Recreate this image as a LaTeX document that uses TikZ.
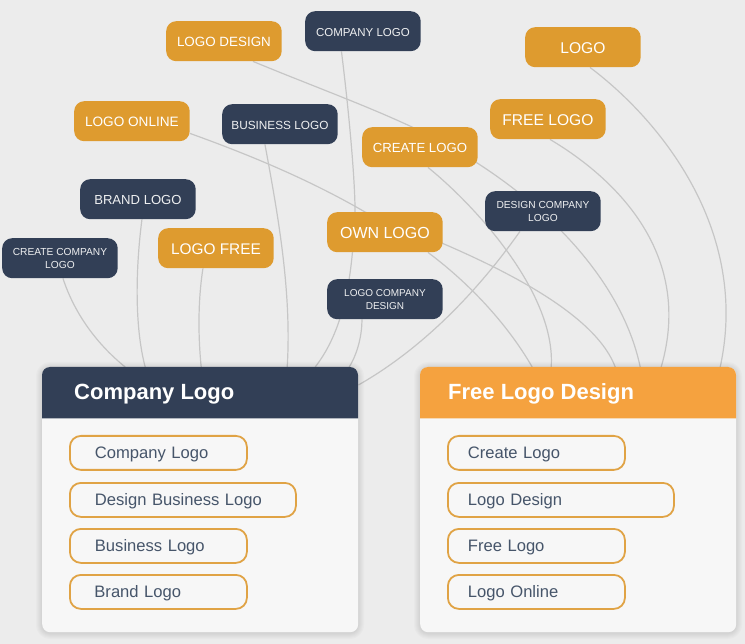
\documentclass[tikz,border=0pt]{standalone}
\usepackage{fontspec}
\setmainfont{Liberation Sans}
\definecolor{bgc}{HTML}{ECECEC}
\definecolor{navy}{HTML}{323F56}
\definecolor{gold}{HTML}{DE9B2F}
\definecolor{hdr}{HTML}{F5A23F}
\definecolor{body}{HTML}{F7F7F7}
\definecolor{pillc}{HTML}{E0A345}
\definecolor{ptext}{HTML}{46556A}
\definecolor{wire}{HTML}{C6C6C6}
\newcommand{\fsz}[2]{\fontsize{#1}{#2}\selectfont}
\newcommand{\dnstrut}{\rule{0pt}{.85em}}
\pgfdeclarelayer{backdrop}
\pgfdeclarelayer{wires}
\pgfsetlayers{backdrop,wires,main}
\tikzset{
  tag/.style={rounded corners=10pt,minimum width=115.5pt,minimum height=40pt,inner sep=0pt,text=white,align=center,anchor=north west},
  goldtag/.style={tag,fill=gold},
  navytag/.style={tag,fill=navy,text=white!92!navy},
  wireline/.style={draw=wire,line width=1.2pt},
  panelbody/.style={fill=body,rounded corners=8pt,minimum width=316pt,minimum height=265pt,inner sep=0pt,anchor=north west},
  headtext/.style={text=white,font=\bfseries\fsz{22}{26},inner sep=0pt,anchor=west},
  pill/.style={draw=pillc,line width=1.8pt,rounded corners=11pt,fill=body,minimum height=34pt,inner ysep=0pt,inner xsep=0pt,anchor=north west,text=ptext,font=\fsz{16.6}{20},align=left,text height=13.2pt,text depth=2.8pt},
  pillshort/.style={pill,text width=177pt,minimum width=177pt},
  pilllong/.style={pill,text width=226pt,minimum width=226pt}
}
\begin{document}
\begin{tikzpicture}[x=1pt,y=-1pt]
\useasboundingbox (0,0) rectangle (745,644);
\begin{pgfonlayer}{backdrop}
\fill[bgc] (0,0) rectangle (745,644);
\end{pgfonlayer}

% shadows and panels
\foreach \s in {1,...,6}{
  \fill[black,opacity=0.014,rounded corners=8+\s] (42-\s,367-\s+1) rectangle (358+\s,632+\s+1);
  \fill[black,opacity=0.014,rounded corners=8+\s] (420-\s,367-\s+1) rectangle (736+\s,632+\s+1);
}
\node[panelbody] (pl) at (42,367) {};
\node[panelbody] (pr) at (420,367) {};
\fill[navy] (42,418.5) [rounded corners=8pt] -- (42,367) -- (358,367) [sharp corners] -- (358,418.5) -- cycle;
\fill[hdr] (420,418.5) [rounded corners=8pt] -- (420,367) -- (736,367) [sharp corners] -- (736,418.5) -- cycle;
\node[headtext] (plh) at (74,394) {Company Logo};
\node[headtext] (prh) at (448,394) {Free Logo Design};

% pills
\node[pillshort] (l1) at (69,435) {\hspace*{25pt}Company Logo};
\node[pilllong] (l2) at (69,482) {\hspace*{25pt}Design Business Logo};
\node[pillshort] (l3) at (69,528) {\hspace*{25pt}Business Logo};
\node[pillshort] (l4) at (69,574) {\hspace*{24.5pt}Brand Logo};
\node[pillshort] (r1) at (447,435) {\hspace*{20pt}Create Logo};
\node[pilllong] (r2) at (447,482) {\hspace*{20pt}Logo Design};
\node[pillshort] (r3) at (447,528) {\hspace*{20pt}Free Logo};
\node[pillshort] (r4) at (447,574) {\hspace*{20pt}Logo Online};

% tags
\node[goldtag,font=\fsz{13.4}{16}] (ld) at (166,21) {\dnstrut LOGO DESIGN};
\node[navytag,font=\fsz{11.5}{15}] (cl) at (305,11) {\dnstrut COMPANY LOGO};
\node[goldtag,font=\fsz{15.6}{18}] (lg) at (525,27) {\dnstrut LOGO};
\node[goldtag,font=\fsz{13.6}{17}] (lo) at (74,101) {\dnstrut LOGO ONLINE};
\node[navytag,font=\fsz{11.8}{15}] (bl) at (222,104) {\dnstrut BUSINESS LOGO};
\node[goldtag,font=\fsz{15.6}{20}] (fl) at (490,99) {\dnstrut FREE LOGO};
\node[goldtag,font=\fsz{13.2}{16}] (crl) at (362,127) {\dnstrut CREATE LOGO};
\node[navytag,font=\fsz{13.1}{16}] (brl) at (80,179) {\dnstrut BRAND LOGO};
\node[navytag,font=\fsz{10.2}{13}] (dcl) at (485,191) {\dnstrut DESIGN COMPANY\\LOGO};
\node[navytag,font=\fsz{10.2}{13}] (ccl) at (2,238) {\dnstrut CREATE COMPANY\\LOGO};
\node[goldtag,font=\fsz{15.4}{20}] (lf) at (158,228) {\dnstrut LOGO FREE};
\node[goldtag,font=\fsz{16}{20}] (ol) at (327,212) {\dnstrut OWN LOGO};
\node[navytag,font=\fsz{10}{13}] (lcd) at (327,279) {\dnstrut LOGO COMPANY\\DESIGN};

\begin{pgfonlayer}{wires}
\path[wireline] ([xshift=-21.5pt]cl.south) .. controls (350,120) and (358,210) .. (354,230) .. controls (351,290) and (340,335) .. ([xshift=115pt]pl.north);
\path[wireline] ([xshift=-23pt]lcd.south) .. controls (362,340) and (355,358) .. ([xshift=149pt]pl.north);
\path[wireline] ([xshift=3pt]ccl.south) .. controls (75,315) and (98,345) .. ([xshift=-75pt]pl.north);
\path[wireline] ([xshift=4pt]brl.south) .. controls (136,265) and (134,325) .. ([xshift=-55pt]pl.north);
\path[wireline] ([xshift=-13pt]lf.south) .. controls (198,300) and (198,335) .. ([xshift=1pt]pl.north);
\path[wireline] ([xshift=-15pt]bl.south) .. controls (277,210) and (292,290) .. ([xshift=87pt]pl.north);
\path[wireline] ([xshift=8pt]crl.south) .. controls (478,208) and (556,295) .. ([xshift=-27pt]pr.north);
\path[wireline] ([yshift=8pt]lo.south east) .. controls (250,155) and (310,180) .. (365,212) .. controls (450,245) and (590,300) .. ([xshift=37pt]pr.north);
\path[wireline] ([xshift=29pt]ld.south) .. controls (310,85) and (365,105) .. (412,127) .. controls (525,180) and (620,270) .. ([xshift=62pt]pr.north);
\path[wireline] ([xshift=43pt]ol.south) .. controls (465,280) and (505,320) .. ([xshift=-46pt]pr.north);
\path[wireline] ([xshift=2pt]fl.south) .. controls (610,175) and (695,250) .. ([xshift=83pt]pr.north);
\path[wireline] ([xshift=7pt]lg.south) .. controls (660,120) and (750,230) .. ([xshift=142pt]pr.north);
\path[wireline] ([xshift=-23pt]dcl.south) .. controls (475,295) and (420,350) .. ([yshift=-18pt]pl.north east);
\end{pgfonlayer}
\end{tikzpicture}
\end{document}
